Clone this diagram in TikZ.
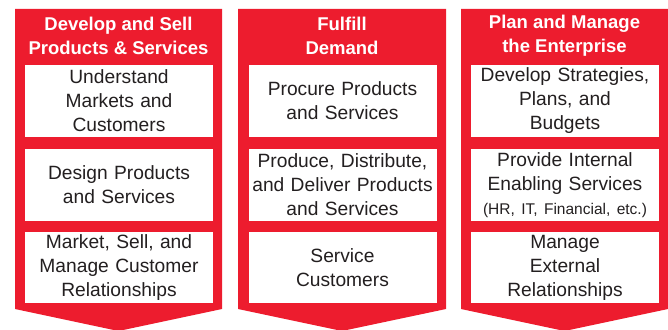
\documentclass[tikz,border=0pt]{standalone}
\usepackage{fontspec}
\setmainfont{Liberation Sans}
\definecolor{procred}{RGB}{237,28,46}
\definecolor{proctext}{RGB}{35,31,32}
\begin{document}
\begin{tikzpicture}
  [x=1pt,y=-1pt,
   every node/.style={align=center,inner sep=0pt},
   head/.style={text=white,font=\fontsize{18.5}{24}\selectfont\bfseries},
   proc/.style={fill=white,text=proctext,minimum height=72pt,text width=188pt,
     font=\fontsize{19.2}{24}\selectfont}]
  \useasboundingbox (0,0) rectangle (668,329);

  % the three red chevrons
  \foreach \l/\r in {15/222,238/446,461/668}
    \fill[procred] (\l,9) -- (\r,9) -- (\r,309) -- ({(\l+\r)/2},331) -- (\l,309) -- cycle;

  \node[head] (h1) at (118.5,35.5) {Develop and Sell\\Products \& Services};
  \node[head] (h2) at (342,35.5) {Fulfill\\Demand};
  \node[head] (h3) at (564.5,35.5) {Plan and Manage\\the Enterprise};

  \node[proc] (a1) at (119,101) {Understand\\Markets and\\Customers};
  \node[proc] (a2) at (119,185) {Design Products\\and Services};
  \node[proc,minimum height=71pt] (a3) at (119,267.5) {Market, Sell, and\\Manage Customer\\Relationships};

  \node[proc] (b1) at (342.5,101) {Procure Products\\and Services};
  \node[proc] (b2) at (342.5,185) {Produce, Distribute,\\and Deliver Products\\and Services};
  \node[proc,minimum height=71pt] (b3) at (342.5,267.5) {Service\\Customers};

  \node[proc] (c1) at (565,101) {Develop Strategies,\\Plans, and\\Budgets};
  \node[proc] (c2) at (565,185) {Provide Internal\\Enabling Services\\{\fontsize{15.5}{20}\selectfont (HR, IT, Financial, etc.)}};
  \node[proc,minimum height=71pt] (c3) at (565,267.5) {Manage\\External\\Relationships};

\end{tikzpicture}
\end{document}
